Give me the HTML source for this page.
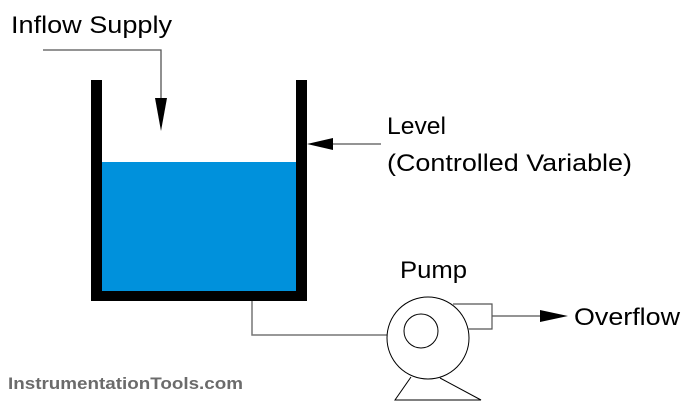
<!DOCTYPE html>
<html><head><style>
html,body{margin:0;padding:0;background:#fff;}
svg{display:block;}
text{font-family:"Liberation Sans",sans-serif;}
</style></head><body>
<svg width="689" height="410" viewBox="0 0 689 410" xmlns="http://www.w3.org/2000/svg">
<rect x="101" y="162" width="197" height="130" fill="#0091dc"/>
<rect x="91" y="80" width="11" height="221" fill="#000"/>
<rect x="296" y="80" width="11" height="221" fill="#000"/>
<rect x="91" y="291" width="216" height="10" fill="#000"/>
<polyline points="43,50 161,50 161,100" fill="none" stroke="#555" stroke-width="1.3"/>
<polygon points="155,98 167,98 161,131" fill="#000"/>
<line x1="333" y1="144" x2="381" y2="144" stroke="#555" stroke-width="1.3"/>
<polygon points="307,144 333,138 333,150" fill="#000"/>
<polyline points="252,301 252,335 387,335" fill="none" stroke="#777" stroke-width="1.5"/>
<circle cx="428" cy="338" r="41" fill="#fff" stroke="#000" stroke-width="1"/>
<circle cx="421" cy="331" r="17" fill="#fff" stroke="#000" stroke-width="1"/>
<polyline points="453,304 492,304 492,329 468,329" fill="none" stroke="#555" stroke-width="1.2"/>
<line x1="492" y1="316" x2="541" y2="316" stroke="#555" stroke-width="1.2"/>
<polygon points="540,310 568,316 540,322" fill="#000"/>
<polyline points="411,377 395,400 481,400 440,378" fill="none" stroke="#000" stroke-width="1"/>
<text x="11" y="33" font-size="24" textLength="161" lengthAdjust="spacingAndGlyphs" fill="#000">Inflow Supply</text>
<text x="387" y="134" font-size="24" textLength="59" lengthAdjust="spacingAndGlyphs" fill="#000">Level</text>
<text x="387" y="171" font-size="24" textLength="245" lengthAdjust="spacingAndGlyphs" fill="#000">(Controlled Variable)</text>
<text x="400" y="278" font-size="24" textLength="67" lengthAdjust="spacingAndGlyphs" fill="#000">Pump</text>
<text x="574" y="325" font-size="24" textLength="106" lengthAdjust="spacingAndGlyphs" fill="#000">Overflow</text>
<text x="8" y="389" font-size="17" font-weight="bold" textLength="235" lengthAdjust="spacingAndGlyphs" fill="#6b6b6b">InstrumentationTools.com</text>
</svg>
</body></html>
